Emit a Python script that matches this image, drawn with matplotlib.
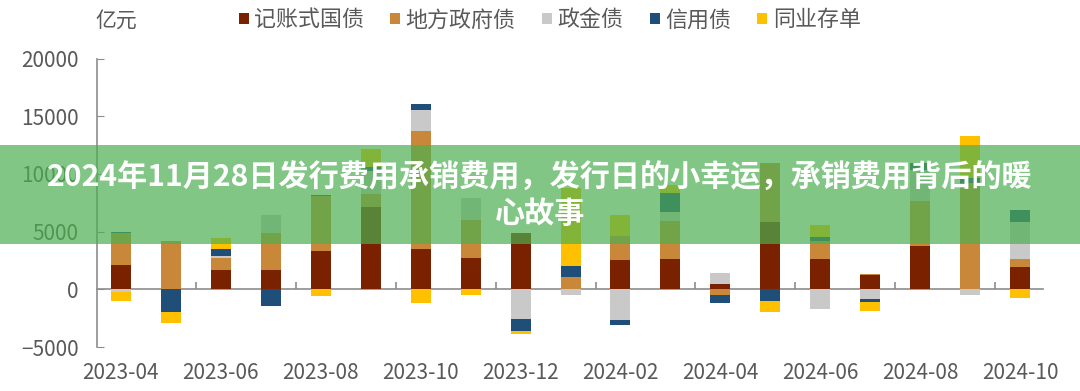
import numpy as np
import matplotlib
matplotlib.use("Agg")
import matplotlib.pyplot as plt
from matplotlib.patches import Patch, Rectangle

plt.rcParams['font.family'] = ['Noto Sans CJK SC', 'DejaVu Sans']

# 数据（亿元）
months = ['2023-04', '2023-05', '2023-06', '2023-07', '2023-08', '2023-09', '2023-10',
          '2023-11', '2023-12', '2024-01', '2024-02', '2024-03', '2024-04', '2024-05',
          '2024-06', '2024-07', '2024-08', '2024-09', '2024-10']
series_names = ['记账式国债', '地方政府债', '政金债', '信用债', '同业存单']
guozhai = [2100, 0, 1700, 1670, 3330, 7100, 3470, 2750, 4900, 0, 2530, 2670, 460, 5850, 2670, 1200, 3740, 0, 1980]
difang = [2750, 4200, 1050, 3230, 4750, 1150, 10270, 3300, 0, 1090, 2090, 3240, -460, 5070, 1520, 170, 3900, 9200, 690]
zhengjin = [-200, 0, 120, 1520, 0, 2000, 1800, 1860, -2600, -460, -2700, 800, 950, 0, -1700, -850, 2700, -480, 3180]
xinyong = [150, -2000, 600, -1450, 120, 350, 550, 0, -1000, 920, -400, 1630, -750, -970, 370, -270, 570, 490, 1070]
tongye = [-800, -950, 1000, 0, -600, 1600, -1200, -450, -230, 6800, 1800, 700, 0, -1000, 980, -800, 0, 3590, -770]
colors = ['#7A2100', '#C9873A', '#C9C9C9', '#1F4E79', '#FFC000']

title_1 = '2024年11月28日发行费用承销费用，发行日的小幸运，承销费用背后的暖'
title_2 = '心故事'

grey_txt = '#595959'
grey_ax = '#8C8C8C'

fig = plt.figure(figsize=(10.8, 3.91), dpi=100)
ax = fig.add_axes([0.0894, 0.1125, 0.8763, 0.7375])

x = np.arange(len(months))
pos = np.zeros(len(months))
neg = np.zeros(len(months))
for name, vals, c in zip(series_names, [guozhai, difang, zhengjin, xinyong, tongye], colors):
    v = np.array(vals, dtype=float)
    bottom = np.where(v >= 0, pos, neg)
    ax.bar(x, v, width=0.4, bottom=bottom, color=c, label=name, zorder=2)
    pos = pos + np.where(v > 0, v, 0)
    neg = neg + np.where(v < 0, v, 0)

ax.set_xlim(-0.48, 18.45)
ax.set_ylim(-5000, 20000)
ax.set_yticks([-5000, 0, 5000, 10000, 15000, 20000])
ax.set_xticks(x[::2])
ax.set_xticklabels(months[::2])
ax.tick_params(axis='x', length=0, pad=11, labelsize=15, labelcolor=grey_txt)
ax.tick_params(axis='y', direction='in', length=5, color=grey_ax, pad=13,
               labelsize=15, labelcolor=grey_txt)
for s in ['top', 'right', 'bottom']:
    ax.spines[s].set_visible(False)
ax.spines['left'].set_color(grey_ax)
ax.spines['left'].set_linewidth(1.2)

# 零轴
zero_ax = ax.secondary_xaxis(0.2)
zero_ax.set_xticks(np.arange(1.5, 18, 2))
zero_ax.set_xticklabels([])
zero_ax.tick_params(direction='in', length=5, color=grey_ax, width=1.2)
zero_ax.spines['bottom'].set_color(grey_ax)
zero_ax.spines['bottom'].set_linewidth(1.2)

fig.text(0.088, 0.948, '亿元', fontsize=15, color=grey_txt, ha='left', va='center')

handles = [Patch(facecolor=c, edgecolor='none') for c in colors]
fig.legend(handles, series_names, loc='center', bbox_to_anchor=(0.509, 0.948), ncol=5,
           frameon=False, fontsize=15.8, handlelength=0.45, handleheight=0.45,
           handletextpad=0.25, columnspacing=1.2, borderpad=0, labelcolor=grey_txt)

# 标题横幅
fig.patches.append(Rectangle((0, 0.3772), 1, 0.252, transform=fig.transFigure,
                             facecolor='#4CAF50', alpha=0.7, edgecolor='none', zorder=5))
fig.text(0.5, 1 - 177.5 / 391, title_1, fontsize=21.7, fontweight='bold', color='white',
         ha='center', va='center', zorder=6)
fig.text(0.5, 1 - 214.5 / 391, title_2, fontsize=21.7, fontweight='bold', color='white',
         ha='center', va='center', zorder=6)

fig.savefig('out.png', dpi=100)
